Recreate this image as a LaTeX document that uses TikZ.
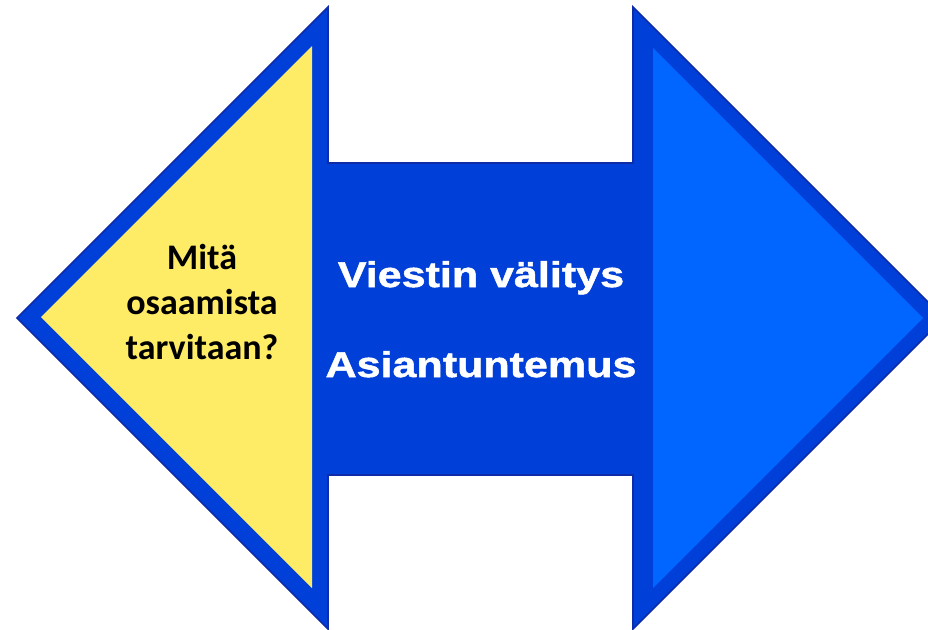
\documentclass[tikz,border=0pt]{standalone}
\usepackage{fontspec}
\newfontfamily\calibfont{Carlito}
\newfontfamily\wideArial{Liberation Sans}[FakeStretch=1.2,FakeBold=1.4]
\definecolor{shaftblue}{RGB}{0,64,216}
\definecolor{headblue}{RGB}{0,102,255}
\definecolor{edgeblue}{RGB}{14,44,168}
\definecolor{headyellow}{RGB}{255,236,102}
\tikzset{
  qtext/.style={anchor=center,inner sep=0.75pt,align=center,font=\calibfont\bfseries\fontsize{27}{33.75}\selectfont,text=black},
  ctext/.style={anchor=base,inner sep=0.75pt,font=\wideArial\bfseries\fontsize{26.9}{30}\selectfont,text=white}
}
\begin{document}
\begin{tikzpicture}[x=0.75pt,y=0.75pt,yscale=-1,xscale=1]
\useasboundingbox (0,0) rectangle (928,629);
\clip (0,0) rectangle (928,629);

%Shape: Left-Right Arrow [id:dp1]
\draw [color=edgeblue,fill=shaftblue,line width=1.2]  (17,318) -- (328,7) -- (328,163) -- (633,163) -- (633,7) -- (944,318) -- (633,629) -- (633,475) -- (328,475) -- (328,629) -- cycle ;
%Shape: Triangle left head [id:dp2]
\fill [color=headyellow]  (312,46) -- (41,317) -- (312,588) -- cycle ;
%Shape: Triangle right head [id:dp3]
\fill [color=headblue]  (653,48) -- (923,318) -- (653,588) -- cycle ;

% Text Node
\draw (202,302) node [qtext] (question) {Mitä\\osaamista\\tarvitaan?};
% Text Node
\draw (481,287) node [ctext] (message) {Viestin välitys};
% Text Node
\draw (481,377) node [ctext] (expertise) {Asiantuntemus};

\end{tikzpicture}
\end{document}
